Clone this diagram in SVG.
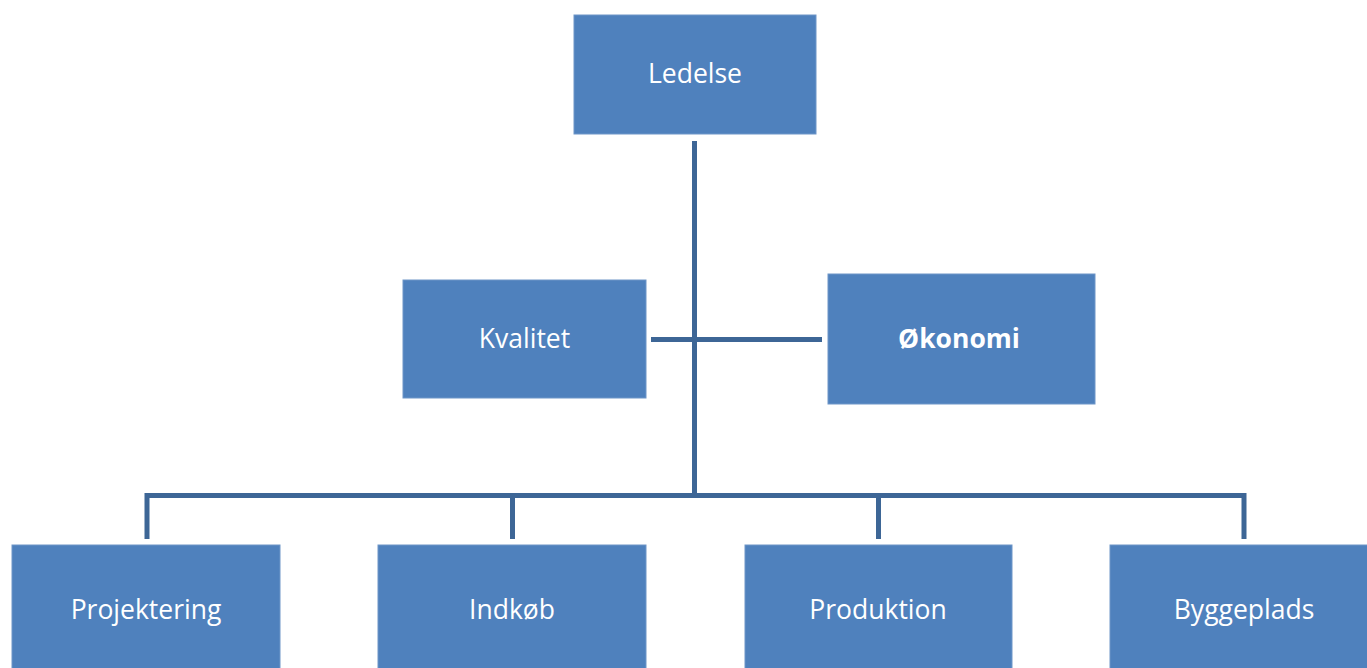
<svg xmlns="http://www.w3.org/2000/svg" width="1367" height="668" viewBox="0 0 1367 668">
<style>
.box{fill:#4F81BD;stroke:#6E96C8;stroke-width:1}
.lbl{fill:#fff;font-family:"Open Sans","Liberation Sans",sans-serif;font-size:26.5px;text-anchor:middle;dominant-baseline:central}
.b{font-weight:bold}
.ln{stroke:#3D6696;stroke-width:5;fill:none}
</style>
<rect width="1367" height="668" fill="#fff"/>
<g id="connectors">
<line class="ln" x1="694.5" y1="141" x2="694.5" y2="497"/>
<line class="ln" x1="651" y1="339.5" x2="822" y2="339.5"/>
<polyline class="ln" points="147,539 147,495.5 1244,495.5 1244,539"/>
<line class="ln" x1="512.5" y1="495" x2="512.5" y2="539"/>
<line class="ln" x1="878.5" y1="495" x2="878.5" y2="539"/>
</g>
<g id="ledelse"><rect class="box" x="574" y="15" width="242" height="119"/><text class="lbl" x="695" y="73">Ledelse</text></g>
<g id="kvalitet"><rect class="box" x="403" y="280" width="243" height="118"/><text class="lbl" x="524.5" y="338">Kvalitet</text></g>
<g id="okonomi"><rect class="box" x="828" y="274" width="267" height="130"/><text class="lbl b" x="959" y="338">Økonomi</text></g>
<g id="projektering"><rect class="box" x="12" y="545" width="268" height="130"/><text class="lbl" x="146" y="609">Projektering</text></g>
<g id="indkob"><rect class="box" x="378" y="545" width="268" height="130"/><text class="lbl" x="512" y="609">Indkøb</text></g>
<g id="produktion"><rect class="box" x="745" y="545" width="267" height="130"/><text class="lbl" x="878" y="609">Produktion</text></g>
<g id="byggeplads"><rect class="box" x="1110" y="545" width="267" height="130"/><text class="lbl" x="1244" y="609">Byggeplads</text></g>
</svg>
